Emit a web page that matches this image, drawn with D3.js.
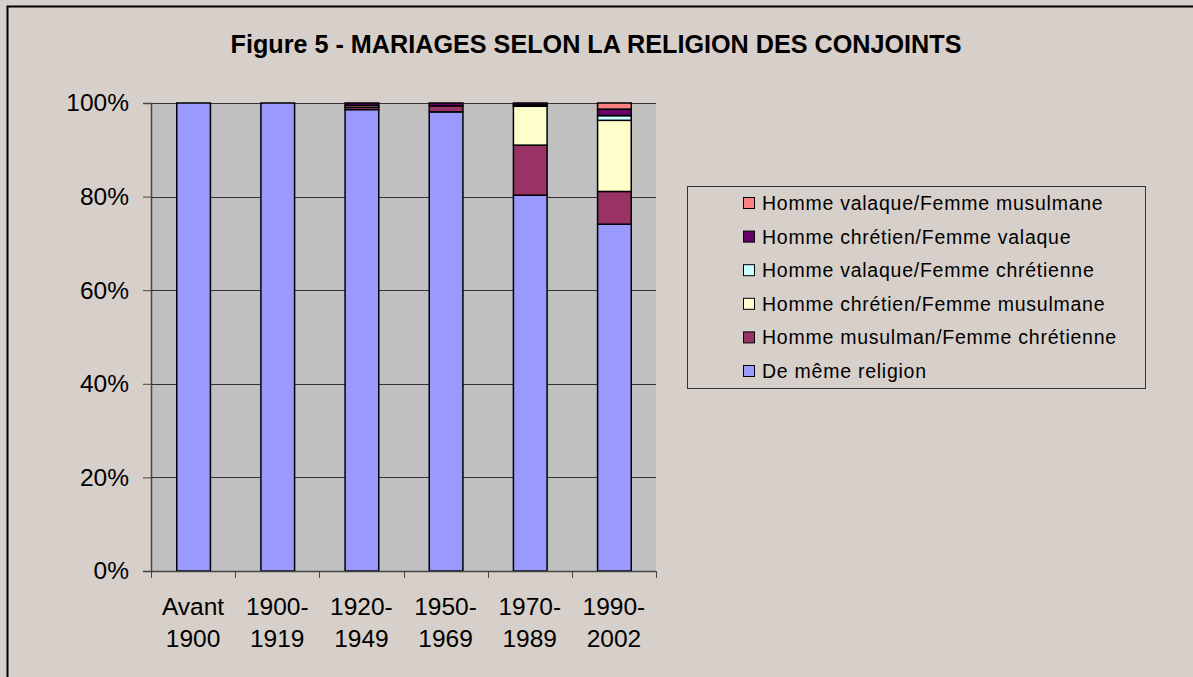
<!DOCTYPE html>
<html>
<head>
<meta charset="utf-8">
<script src="https://cdn.jsdelivr.net/npm/d3@7"></script>
<style>
  body { margin: 0; background: #d7cfc9; }
  text { font-family: Arial, "Liberation Sans", sans-serif; fill: #000; }
</style>
</head>
<body>
<div id="container"></div>
<script>
const categories = ["Avant 1900", "1900-1919", "1920-1949", "1950-1969", "1970-1989", "1990-2002"];
const categoryLines = [["Avant", "1900"], ["1900-", "1919"], ["1920-", "1949"], ["1950-", "1969"], ["1970-", "1989"], ["1990-", "2002"]];

// stacked bottom to top
const seriesNames = [
  "De même religion",
  "Homme musulman/Femme chrétienne",
  "Homme chrétien/Femme musulmane",
  "Homme valaque/Femme chrétienne",
  "Homme chrétien/Femme valaque",
  "Homme valaque/Femme musulmane"
];
const seriesColors = ["#9999ff", "#993366", "#ffffcc", "#ccffff", "#660066", "#ff8080"];

const memeReligion   = [100, 100, 98.6, 98.1, 80.3, 74.1];
const musulmanChret  = [0, 0, 0.5, 1.3, 10.7, 7.0];
const chretMusulmane = [0, 0, 0.4, 0, 8.3, 15.2];
const valaqueChret   = [0, 0, 0, 0, 0.3, 1.0];
const chretValaque   = [0, 0, 0.5, 0.6, 0.4, 1.4];
const valaqueMusul   = [0, 0, 0, 0, 0, 1.3];

const yTicks = [0, 20, 40, 60, 80, 100];

const seriesValues = [memeReligion, musulmanChret, chretMusulmane, valaqueChret, chretValaque, valaqueMusul];

const W = 1193, H = 677;
const plot = {left: 151, right: 656, top: 103, bottom: 571};

const svg = d3.select("#container")
  .append("svg")
  .attr("width", W)
  .attr("height", H);

// chart area
svg.append("rect")
  .attr("x", 7.5).attr("y", 6.5)
  .attr("width", W + 20).attr("height", H + 20)
  .attr("fill", "#d7cfc9")
  .attr("stroke", "#000")
  .attr("stroke-width", 2);

svg.append("text")
  .attr("x", 596)
  .attr("y", 53)
  .attr("text-anchor", "middle")
  .style("font-weight", "bold")
  .style("font-size", "25.2px")
  .text("Figure 5 - MARIAGES SELON LA RELIGION DES CONJOINTS");

const x = d3.scaleBand()
  .domain(categories)
  .range([plot.left, plot.right])
  .paddingInner(0.6)
  .paddingOuter(0.3);

const y = d3.scaleLinear()
  .domain([0, 100])
  .range([plot.bottom, plot.top]);

svg.append("rect")
  .attr("x", plot.left).attr("y", plot.top)
  .attr("width", plot.right - plot.left)
  .attr("height", plot.bottom - plot.top)
  .attr("fill", "#c0c0c0");

// gridlines
svg.append("g")
  .selectAll("line")
  .data(yTicks.filter(d => d > 0))
  .join("line")
  .attr("x1", plot.left).attr("x2", plot.right)
  .attr("y1", d => Math.round(y(d)) + 0.5)
  .attr("y2", d => Math.round(y(d)) + 0.5)
  .attr("stroke", "#333")
  .attr("stroke-width", 1);

// stacked bars
const rows = categories.map((c, i) => {
  const r = {cat: c};
  seriesNames.forEach((s, j) => { r[s] = seriesValues[j][i]; });
  return r;
});
const stacked = d3.stack().keys(seriesNames)(rows);

svg.append("g")
  .selectAll("g")
  .data(stacked)
  .join("g")
  .attr("fill", (d, i) => seriesColors[i])
  .selectAll("rect")
  .data(d => d.filter(p => p[1] - p[0] > 0))
  .join("rect")
  .attr("x", d => x(d.data.cat) + 0.5)
  .attr("width", x.bandwidth())
  .attr("y", d => y(d[1]))
  .attr("height", d => y(d[0]) - y(d[1]))
  .attr("stroke", "#000")
  .attr("stroke-width", 1.5);

// y axis
const yAxis = svg.append("g")
  .attr("transform", `translate(${plot.left},0)`)
  .call(d3.axisLeft(y).tickValues(yTicks).tickFormat(d => d + "%").tickSize(8).tickPadding(14));
yAxis.select(".domain").attr("stroke", "#444").attr("stroke-width", 1.5);
yAxis.selectAll(".tick line").attr("stroke", "#444");
yAxis.selectAll("text").style("font-size", "24.5px").attr("font-family", null);

// x axis
svg.append("line")
  .attr("x1", plot.left).attr("x2", plot.right)
  .attr("y1", plot.bottom + 0.5).attr("y2", plot.bottom + 0.5)
  .attr("stroke", "#444").attr("stroke-width", 1.5);

const bounds = d3.range(categories.length + 1).map(i => plot.left + i * x.step());
svg.append("g")
  .selectAll("line")
  .data(bounds)
  .join("line")
  .attr("x1", d => Math.round(d) + 0.5).attr("x2", d => Math.round(d) + 0.5)
  .attr("y1", plot.bottom).attr("y2", plot.bottom + 7)
  .attr("stroke", "#444");

const xLabels = svg.append("g")
  .selectAll("text")
  .data(categories)
  .join("text")
  .attr("x", d => x(d) + x.bandwidth() / 2)
  .attr("y", 615)
  .attr("text-anchor", "middle")
  .style("font-size", "24.5px");
xLabels.selectAll("tspan")
  .data((d, i) => categoryLines[i])
  .join("tspan")
  .attr("x", function() { return this.parentNode.getAttribute("x"); })
  .attr("dy", (d, i) => i === 0 ? 0 : 32)
  .text(d => d);

// legend
const legend = svg.append("g");
legend.append("rect")
  .attr("x", 687.5).attr("y", 186.5)
  .attr("width", 458).attr("height", 202)
  .attr("fill", "#d7cfc9")
  .attr("stroke", "#333")
  .attr("stroke-width", 1);

const legendOrder = seriesNames.map((s, i) => i).reverse();
const legendY = d3.scalePoint().domain(legendOrder).range([203, 371]);

const items = legend.selectAll("g.item")
  .data(legendOrder)
  .join("g")
  .attr("class", "item")
  .attr("transform", d => `translate(743,${legendY(d)})`);

items.append("rect")
  .attr("x", 0.5).attr("y", -5.5)
  .attr("width", 11).attr("height", 11)
  .attr("fill", d => seriesColors[d])
  .attr("stroke", "#000")
  .attr("stroke-width", 1);

items.append("text")
  .attr("x", 19)
  .attr("y", 7)
  .style("font-size", "19.5px")
  .style("letter-spacing", "0.75px")
  .text(d => seriesNames[d]);
</script>
</body>
</html>
